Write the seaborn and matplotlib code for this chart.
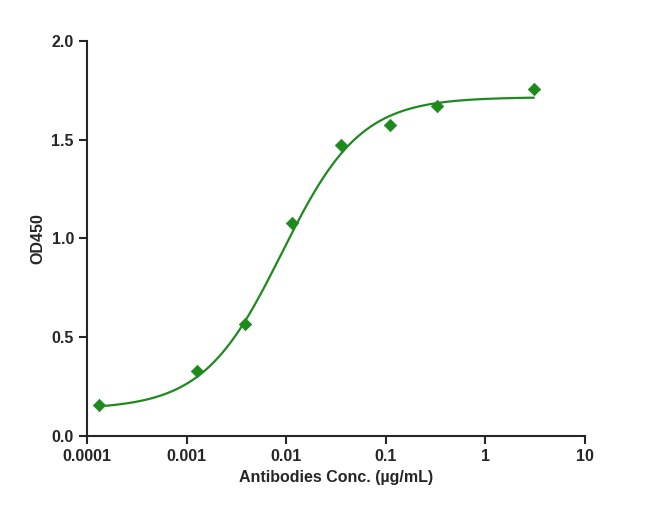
import numpy as np
import matplotlib
matplotlib.use("Agg")
import matplotlib.pyplot as plt
import seaborn as sns

conc = [0.000132, 0.00128, 0.00383, 0.0115, 0.0355, 0.111, 0.325, 3.07]
od = [0.157, 0.329, 0.567, 1.08, 1.473, 1.575, 1.671, 1.757]
# 4PL fit parameters (bottom, top, EC50, hill)
bottom, top, ec50, hill = 0.135, 1.715, 0.0090, 1.1

sns.set_style("ticks")
plt.rcParams['font.family'] = ['Arial', 'Liberation Sans', 'DejaVu Sans']
fig, ax = plt.subplots(figsize=(6.5, 5.24), dpi=100)
fig.subplots_adjust(left=0.134, right=0.9, top=0.922, bottom=0.168)
green = "#1e8a1e"
xs = np.logspace(np.log10(conc[0]), np.log10(conc[-1]), 300)
ys = bottom + (top - bottom) / (1 + (ec50 / xs) ** hill)
sns.lineplot(x=xs, y=ys, ax=ax, color=green, lw=1.6)
sns.scatterplot(x=conc, y=od, ax=ax, color=green, marker="D", s=40, edgecolor=green)
ax.set_xscale("log")
ax.set_xlim(0.0001, 10)
ax.set_ylim(0, 2.0)
ax.set_xticks([0.0001, 0.001, 0.01, 0.1, 1, 10])
ax.set_xticklabels(["0.0001", "0.001", "0.01", "0.1", "1", "10"])
ax.minorticks_off()
ax.set_yticks([0, 0.5, 1.0, 1.5, 2.0])
ax.set_yticklabels(["0.0", "0.5", "1.0", "1.5", "2.0"])
for lab in ax.get_xticklabels() + ax.get_yticklabels():
    lab.set_fontweight("bold")
ax.tick_params(labelsize=11.5, width=1.5, length=6)
for s in ["left", "bottom"]:
    ax.spines[s].set_linewidth(1.5)
sns.despine(ax=ax)
ax.set_xlabel("Antibodies Conc. (µg/mL)", fontsize=11.5, fontweight="bold")
ax.set_ylabel("OD450", fontsize=11.5, fontweight="bold")
fig.savefig("out.png")
